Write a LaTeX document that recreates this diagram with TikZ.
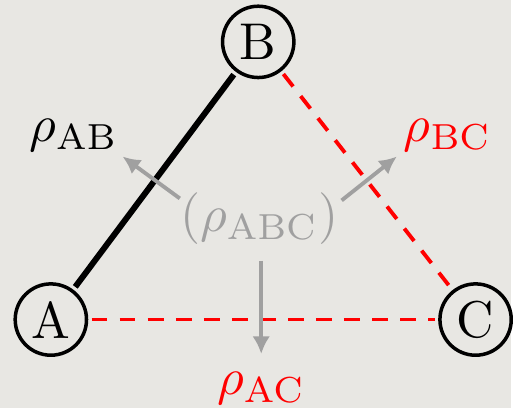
\documentclass[tikz,border=0pt]{standalone}
\usepackage{amsmath}
\usepackage{xcolor}
\usepackage{tikz}
\usetikzlibrary{positioning, arrows.meta}

\definecolor{bgpaper}{RGB}{232,231,227}
\definecolor{fadegray}{RGB}{160,160,160}

\begin{document}
\begin{tikzpicture}[scale=2.95, x=0.0678cm, y=0.0678cm,
    every node/.append style={transform shape},
    party/.style={draw, circle, line width=2pt, minimum size=0.485cm, inner sep=0pt},
    lbl/.style={inner sep=1pt},
    link/.style={line width=3.4pt},
    cut/.style={red, line width=2.2pt, dash pattern=on 9pt off 7pt},
    flow/.style={fadegray, line width=2.2pt, -{Latex[length=10pt,width=10pt]}}]
  \fill[bgpaper] (0,0) rectangle (51.3,40.9);

  % the three parties
  \node[party] (A) at (5.1,8.85) {A};
  \node[party] (B) at (25.9,36.7) {B};
  \node[party] (C) at (47.7,8.85) {C};

  % reduced states
  \node[lbl] (ab) at (7.4,27.3) {$\rho_{\mathrm{AB}}$};
  \node[lbl, red] (bc) at (44.9,27.3) {$\rho_{\mathrm{BC}}$};
  \node[lbl, red] (ac) at (26.2,1.9) {$\rho_{\mathrm{AC}}$};
  \node[lbl, fadegray] (abc) at (26.0,19.0) {$(\rho_{\mathrm{ABC}})$};

  % arrow tips
  \coordinate (tipAB) at (12.3,25.2);
  \coordinate (tipBC) at (39.8,25.2);
  \coordinate (tipAC) at (26.2,5.4);

  % links between parties
  \draw[link] (A) -- (B);
  \draw[cut] (B) -- (C);
  \draw[cut] (A) -- (C);

  % tracing out
  \draw[flow] ([shift={(0.6,2.0)}]abc.west) -- (tipAB);
  \draw[flow] ([shift={(-0.3,1.8)}]abc.east) -- (tipBC);
  \draw[flow, shorten <=6pt] (abc.south -| tipAC) -- (tipAC);
\end{tikzpicture}
\end{document}
